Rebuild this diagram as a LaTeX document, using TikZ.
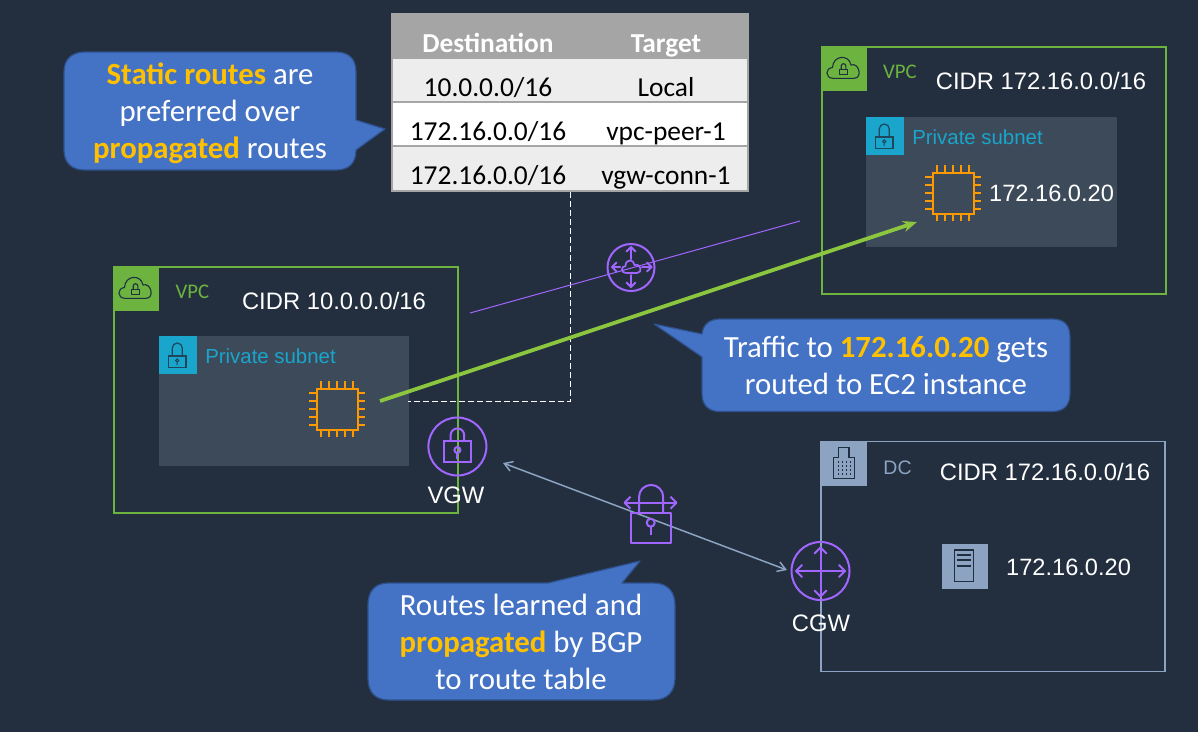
\documentclass[tikz,border=0pt]{standalone}
\usepackage{fontspec}
\setmainfont{Carlito}
\newfontfamily\arialf{Liberation Sans}
\usetikzlibrary{arrows.meta}
\definecolor{bgc}{HTML}{232F3E}
\definecolor{vpcgreen}{HTML}{6DB33F}
\definecolor{vpcdark}{HTML}{1F2F3F}
\definecolor{subnetbg}{HTML}{3C4A59}
\definecolor{subnetblue}{HTML}{19A5CC}
\definecolor{dcgray}{HTML}{8CA3C2}
\definecolor{purp}{HTML}{A166FF}
\definecolor{orng}{HTML}{FF9900}
\definecolor{calloutblue}{HTML}{4472C4}
\definecolor{calloutedge}{HTML}{2F528F}
\definecolor{gold}{HTML}{FFC000}
\definecolor{trafficgreen}{HTML}{8CC63F}
\definecolor{tblgray}{HTML}{A5A5A5}
\definecolor{tbllight}{HTML}{EDEDED}
\tikzset{
 x=1pt,y=-1pt,
 callout/.style={fill=calloutblue,draw=calloutedge,line width=1.2pt,line join=round},
 calltext/.style={font=\fontsize{30.8}{37}\selectfont,text=white,align=center,inner sep=0pt},
 arial/.style={font=\arialf\fontsize{#1}{#1}\selectfont,text=white,inner sep=0pt},
 tabtext/.style={font=\fontsize{27.4}{30}\selectfont,text=black,inner sep=0pt,anchor=base},
 tabhead/.style={font=\bfseries\fontsize{27.4}{30}\selectfont,text=white,inner sep=0pt,anchor=base},
 pics/vpcbadge/.style={code={
   \fill[vpcgreen] (0,0) rectangle (45,44);
   \draw[vpcdark,line width=1.1pt,line join=round] (11,31.3) .. controls (3,31.3) and (3,21) .. (10.5,20.5) .. controls (11,8) and (27,7) .. (29,18) .. controls (37,15) and (41,31.3) .. (32,31.3) -- cycle;
   \draw[vpcdark,line width=1.1pt] (17.7,22.3) rectangle (25.3,27.3);
   \draw[vpcdark,line width=1.1pt] (19.2,22.3) -- (19.2,19) arc[start angle=180,end angle=360,radius=2.3] -- (23.8,22.3);
 }},
 pics/lockbadge/.style={code={
   \fill[subnetblue] (0,0) rectangle (38,38);
   \draw[vpcdark!80!subnetblue,line width=1.2pt] (9.3,20) rectangle (27,31.5);
   \draw[vpcdark!80!subnetblue,line width=1.2pt] (13.3,20) -- (13.3,12) arc[start angle=180,end angle=360,radius=5] -- (23.3,20);
   \draw[vpcdark!80!subnetblue,line width=1pt] (18.2,24.5) circle (1.6) (18.2,26.1) -- (18.2,29);
 }},
 pics/chip/.style={code={
   \draw[orng,line width=2pt] (-20.5,-20.5) rectangle (20.5,20.5);
   \foreach \t in {-16,-8,0,8,16}{
     \draw[orng,line width=2pt] (\t,-28) -- (\t,-20.5) (\t,20.5) -- (\t,28) (-28,\t) -- (-20.5,\t) (20.5,\t) -- (28,\t);
   }
 }},
}
\begin{document}
\begin{tikzpicture}
\useasboundingbox (0,0) rectangle (1198,732);
\fill[bgc] (0,0) rectangle (1198,732);

% --- left VPC
\node[draw=vpcgreen,line width=1.8pt,minimum width=344pt,minimum height=246pt,inner sep=0pt] (vpcA) at (286,390) {};
\pic at (114,267) {vpcbadge};
\fill[subnetbg] (159,336) rectangle (409,466);
\pic at (159,336) {lockbadge};
\node[font=\fontsize{20.8}{20.8}\selectfont,text=vpcgreen,inner sep=0pt] (vpcAlbl) at (192.5,292) {VPC};
\node[arial=23.8] (cidrA) at (334,300.5) {CIDR 10.0.0.0/16};
\node[font=\arialf\fontsize{20.4}{20.4}\selectfont,text=subnetblue,inner sep=0pt] (subA) at (270.5,356) {Private subnet};
\pic at (337,409) {chip};
\coordinate (ec2A) at (380,401);

% --- right VPC
\node[draw=vpcgreen,line width=1.8pt,minimum width=344pt,minimum height=247pt,inner sep=0pt] (vpcB) at (994,170.5) {};
\pic at (822,47) {vpcbadge};
\fill[subnetbg] (866,117) rectangle (1117,247);
\pic at (866,117) {lockbadge};
\node[font=\fontsize{20.8}{20.8}\selectfont,text=vpcgreen,inner sep=0pt] (vpcBlbl) at (900,72) {VPC};
\node[arial=23.8] (cidrB) at (1041,81) {CIDR 172.16.0.0/16};
\node[font=\arialf\fontsize{20.4}{20.4}\selectfont,text=subnetblue,inner sep=0pt] (subB) at (977.5,137) {Private subnet};
\pic at (953,193) {chip};
\node[arial=23.6,anchor=west] (ipB) at (989,193) {172.16.0.20};
\coordinate (ec2B) at (917,222);

% --- DC
\node[draw=dcgray,line width=1.8pt,minimum width=344pt,minimum height=230pt,inner sep=0pt] (dc) at (993,556.5) {};
\fill[dcgray] (821,441) rectangle (867,486);
\draw[vpcdark,line width=1.1pt] (833.3,478.3) -- (833.3,457.7) -- (838.3,457.7) -- (838.3,447.7) -- (849,447.7) -- (849,457.7) -- (854.3,457.7) -- (854.3,478.3) -- cycle;
\foreach \cx in {838,842,846,850}{\draw[vpcdark,line width=1pt,dash pattern=on 2pt off 2pt] (\cx,461) -- (\cx,476);}
\node[font=\arialf\fontsize{19.5}{19.5}\selectfont,text=dcgray,inner sep=0pt] (dclbl) at (897.5,468) {DC};
\node[arial=23.8] (cidrC) at (1045,472) {CIDR 172.16.0.0/16};
\fill[dcgray] (942,544) rectangle (988,589);
\draw[vpcdark,line width=1.1pt] (954.3,550) rectangle (973.3,581.7);
\draw[vpcdark,line width=1.1pt] (957,555) -- (971,555) (957,560) -- (971,560) (957,566) -- (971,566);
\node[arial=23.6,anchor=west] (ipC) at (1006,567.5) {172.16.0.20};

% --- route table
\fill[tblgray] (391,13) rectangle (749,192);
\fill[tbllight] (393,59) rectangle (747,101);
\fill[white] (393,103) rectangle (747,145);
\fill[tbllight] (393,147) rectangle (747,190);
\node[tabhead] (thd) at (488,52) {Destination};
\node[tabhead] (tht) at (666,52) {Target};
\node[tabtext] (r1d) at (488,96) {10.0.0.0/16};
\node[tabtext] (r1t) at (666,96) {Local};
\node[tabtext] (r2d) at (488,140) {172.16.0.0/16};
\node[tabtext] (r2t) at (666,140) {vpc-peer-1};
\node[tabtext] (r3d) at (488,184) {172.16.0.0/16};
\node[tabtext] (r3t) at (666,184) {vgw-conn-1};
\coordinate (tblbot) at (570.5,192);
\coordinate (dashcorner) at (570.5,401.5);
\coordinate (dashend) at (408,401.5);

% --- connectors
\draw[white,line width=1pt,dash pattern=on 6pt off 3pt] (tblbot) -- (dashcorner) -- (dashend);
\coordinate (peerS) at (470,313);
\coordinate (peerE) at (800,221);
\draw[purp,line width=1pt] (peerS) -- (peerE);
\draw[trafficgreen,line width=3.8pt,-{Stealth[length=14pt,width=11pt]}] (ec2A) -- (ec2B);

% --- peering icon
\node[circle,draw=purp,line width=2pt,minimum size=47pt,inner sep=0pt] (peer) at (631,267.5) {};
\begin{scope}[purp,line width=2pt,line cap=round,line join=round]
\draw (631,247) -- (631,259) (631,275) -- (631,287);
\draw (626.5,251.5) -- (631,247) -- (635.5,251.5) (626.5,282.5) -- (631,287) -- (635.5,282.5);
\draw (612,267) -- (620,267) (642,267) -- (651.5,267);
\draw (616.5,262.5) -- (612,267) -- (616.5,271.5) (647,262.5) -- (651.5,267) -- (647,271.5);
\draw[line width=1.7pt] (626,273) .. controls (620.5,273) and (621,266) .. (625.5,266) .. controls (625.5,258.5) and (634,259) .. (634.5,265) .. controls (641,263) and (643,273) .. (637,273) -- cycle;
\end{scope}

% --- VGW
\node[circle,draw=purp,line width=2pt,minimum size=58pt,inner sep=0pt] (vgw) at (457.4,446.5) {};
\begin{scope}[purp,line width=2pt]
\draw (444,441) rectangle (471,462);
\draw (450.6,441) -- (450.6,435.2) arc[start angle=180,end angle=360,radius=6.8] -- (464.2,441);
\draw (457.4,450) circle (3);
\draw (457.4,453) -- (457.4,459);
\end{scope}
\node[arial=23.8] (vgwlbl) at (456,495) {VGW};

% --- CGW
\node[circle,draw=purp,line width=2pt,minimum size=58pt,inner sep=0pt] (cgw) at (820.5,571) {};
\begin{scope}[purp,line width=2pt,line cap=round,line join=round]
\draw (820.5,547.5) -- (820.5,596.5) (796,571) -- (845,571);
\draw (814.5,553.5) -- (820.5,547.5) -- (826.5,553.5) (814.5,590.5) -- (820.5,596.5) -- (826.5,590.5);
\draw (802,565) -- (796,571) -- (802,577) (839,565) -- (845,571) -- (839,577);
\end{scope}
\node[arial=23.8] (cgwlbl) at (821,623.5) {CGW};

% --- BGP link
\coordinate (bgpA) at (503,463);
\coordinate (bgpB) at (787,570);
\draw[draw=dcgray,line width=1.5pt,{Straight Barb[length=8pt,width=10pt]}-{Straight Barb[length=8pt,width=10pt]}] (bgpA) -- (bgpB);

% --- propagate icon
\begin{scope}[purp,line width=2pt,line join=round]
\draw (631,512.7) rectangle (671,543.3);
\draw (639,512.7) -- (639,497) arc[start angle=180,end angle=360,radius=12.1] -- (663.2,512.7);
\draw (625,502.7) -- (676,502.7);
\draw (630.5,496.7) -- (624.5,502.7) -- (630.5,508.7) (670.5,496.7) -- (676.5,502.7) -- (670.5,508.7);
\draw (650.7,522.7) circle (4);
\draw (650.7,526.7) -- (650.7,535);
\end{scope}

% --- callouts
\draw[callout] (85,52) -- (336,52) .. controls (349,52) and (356,59) .. (356,72) -- (356,120) -- (385,129) -- (356,150) .. controls (356,163) and (349,170) .. (336,170) -- (85,170) .. controls (72,170) and (64,163) .. (64,150) -- (64,72) .. controls (64,59) and (72,52) .. (85,52) -- cycle;
\node[calltext] (c1) at (210,113) {\textcolor{gold}{\textbf{Static routes}} are\\preferred over\\\textcolor{gold}{\textbf{propagated}} routes};

\draw[callout] (720,319) -- (1052,319) .. controls (1064,319) and (1070,325) .. (1070,337) -- (1070,393) .. controls (1070,405) and (1064,411.5) .. (1052,411.5) -- (720,411.5) .. controls (708,411.5) and (702,405) .. (702,393) -- (702,357) -- (654,324) -- (702,334) .. controls (703,325) and (709,319) .. (720,319) -- cycle;
\node[calltext] (c2) at (886,365.5) {Traffic to \textcolor{gold}{\textbf{172.16.0.20}} gets\\routed to EC2 instance};

\draw[callout] (389,583) -- (548,583) -- (640,561) -- (622,583) -- (653,583) .. controls (667,583) and (675,591) .. (675,605) -- (675,678) .. controls (675,692) and (667,700) .. (653,700) -- (389,700) .. controls (375,700) and (368,692) .. (368,678) -- (368,605) .. controls (368,591) and (375,583) .. (389,583) -- cycle;
\node[calltext] (c3) at (521,642) {Routes learned and\\\textcolor{gold}{\textbf{propagated}} by BGP\\to route table};
\end{tikzpicture}
\end{document}
